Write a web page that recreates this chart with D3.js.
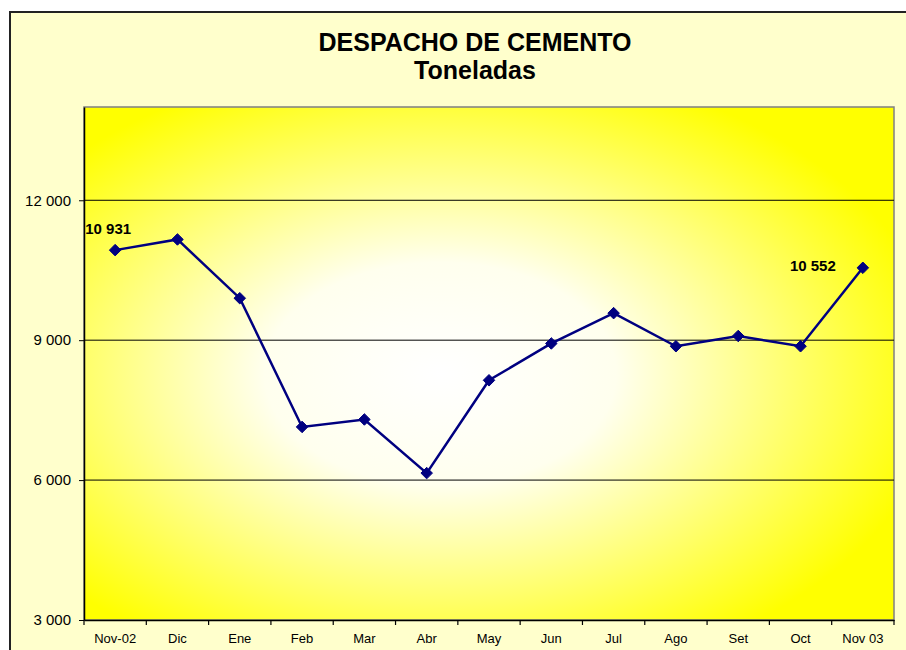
<!DOCTYPE html>
<html>
<head>
<meta charset="utf-8">
<script src="https://cdn.jsdelivr.net/npm/d3@7"></script>
<style>
  body { margin: 0; background: #fff; }
  text { font-family: Arial, "Liberation Sans", sans-serif; }
</style>
</head>
<body>
<script>
'use strict';

var width = 906,
    height = 650;

// data
var months = ['Nov-02', 'Dic', 'Ene', 'Feb', 'Mar', 'Abr', 'May', 'Jun', 'Jul', 'Ago', 'Set', 'Oct', 'Nov 03'];
var tonnes = [10931, 11160, 9900, 7140, 7300, 6150, 8140, 8930, 9580, 8870, 9090, 8870, 10552];
var yTicks = [3000, 6000, 9000, 12000];
var labelled = [0, 12];

var margin = {left: 84, top: 107, right: 894, bottom: 620};

var svg = d3.select('body').append('svg')
    .attr('width', width)
    .attr('height', height);

var defs = svg.append('defs');
var grad = defs.append('radialGradient')
    .attr('id', 'bg')
    .attr('cx', 0.44).attr('cy', 0.52).attr('r', 0.62);
grad.append('stop').attr('offset', '0').attr('stop-color', '#ffffff');
grad.append('stop').attr('offset', '0.35').attr('stop-color', '#ffffee');
grad.append('stop').attr('offset', '1').attr('stop-color', '#ffff00');

// chart frame
svg.append('rect')
    .attr('x', 10).attr('y', 12)
    .attr('width', width).attr('height', height)
    .attr('fill', '#ffffcc')
    .attr('stroke', '#222')
    .attr('stroke-width', 2);

var x = d3.scaleBand()
    .domain(months)
    .range([margin.left, margin.right]);

var y = d3.scaleLinear()
    .domain([3000, 14000])
    .range([margin.bottom, margin.top]);

// plot area
svg.append('rect')
    .attr('x', margin.left).attr('y', margin.top)
    .attr('width', margin.right - margin.left)
    .attr('height', margin.bottom - margin.top)
    .attr('fill', 'url(#bg)')
    .attr('stroke', '#808080')
    .attr('stroke-width', 1.5);

// gridlines
svg.append('g').selectAll('line')
    .data(yTicks.slice(1))
    .enter().append('line')
    .attr('x1', margin.left).attr('x2', margin.right)
    .attr('y1', function(d) { return y(d); })
    .attr('y2', function(d) { return y(d); })
    .attr('stroke', '#000')
    .attr('stroke-width', 1);

// y axis
var yAxis = svg.append('g')
    .attr('transform', 'translate(' + margin.left + ',0)')
    .call(d3.axisLeft(y)
      .tickValues(yTicks)
      .tickSizeInner(5)
      .tickSizeOuter(0)
      .tickPadding(8)
      .tickFormat(function(d) { return d3.format(',')(d).replace(',', ' '); }));
yAxis.select('.domain').attr('stroke', '#000').attr('stroke-width', 1.5);
yAxis.selectAll('text').attr('font-size', '15px').attr('fill', '#000');

// x axis, ticks between categories
var xAxis = svg.append('g')
    .attr('transform', 'translate(0,' + margin.bottom + ')')
    .call(d3.axisBottom(x).tickSize(0).tickPadding(14));
xAxis.select('.domain').attr('stroke', '#000').attr('stroke-width', 1.5);
xAxis.selectAll('text').attr('font-size', '13px').attr('fill', '#000');

svg.append('g').selectAll('line')
    .data(months.concat(['end']))
    .enter().append('line')
    .attr('x1', function(d, i) { return margin.left + i * x.step(); })
    .attr('x2', function(d, i) { return margin.left + i * x.step(); })
    .attr('y1', margin.bottom)
    .attr('y2', margin.bottom + 5)
    .attr('stroke', '#000')
    .attr('stroke-width', 1.2);

// line
var line = d3.line()
    .x(function(d, i) { return x(months[i]) + x.bandwidth() / 2; })
    .y(function(d) { return y(d); });

svg.append('path')
    .datum(tonnes)
    .attr('d', line)
    .attr('fill', 'none')
    .attr('stroke', '#000080')
    .attr('stroke-width', 2.5);

svg.append('g').selectAll('path')
    .data(tonnes)
    .enter().append('path')
    .attr('transform', function(d, i) {
      return 'translate(' + (x(months[i]) + x.bandwidth() / 2) + ',' + y(d) + ')';
    })
    .attr('d', d3.symbol().type(d3.symbolDiamond2).size(85))
    .attr('fill', '#000080')
    .attr('stroke', '#000080');

// value labels
svg.append('g').selectAll('text')
    .data(labelled)
    .enter().append('text')
    .attr('x', function(i) { return x(months[i]) + x.bandwidth() / 2 + (i === 0 ? -7 : -50); })
    .attr('y', function(i) { return y(tonnes[i]) + (i === 0 ? -16 : 3); })
    .attr('text-anchor', 'middle')
    .attr('font-size', '15px')
    .attr('font-weight', 'bold')
    .text(function(i) { return d3.format(',')(tonnes[i]).replace(',', ' '); });

// title
svg.append('text')
    .attr('x', 475).attr('y', 51)
    .attr('text-anchor', 'middle')
    .attr('font-size', '25px')
    .attr('font-weight', 'bold')
    .text('DESPACHO DE CEMENTO');

svg.append('text')
    .attr('x', 475).attr('y', 79)
    .attr('text-anchor', 'middle')
    .attr('font-size', '25px')
    .attr('font-weight', 'bold')
    .text('Toneladas');
</script>
</body>
</html>
